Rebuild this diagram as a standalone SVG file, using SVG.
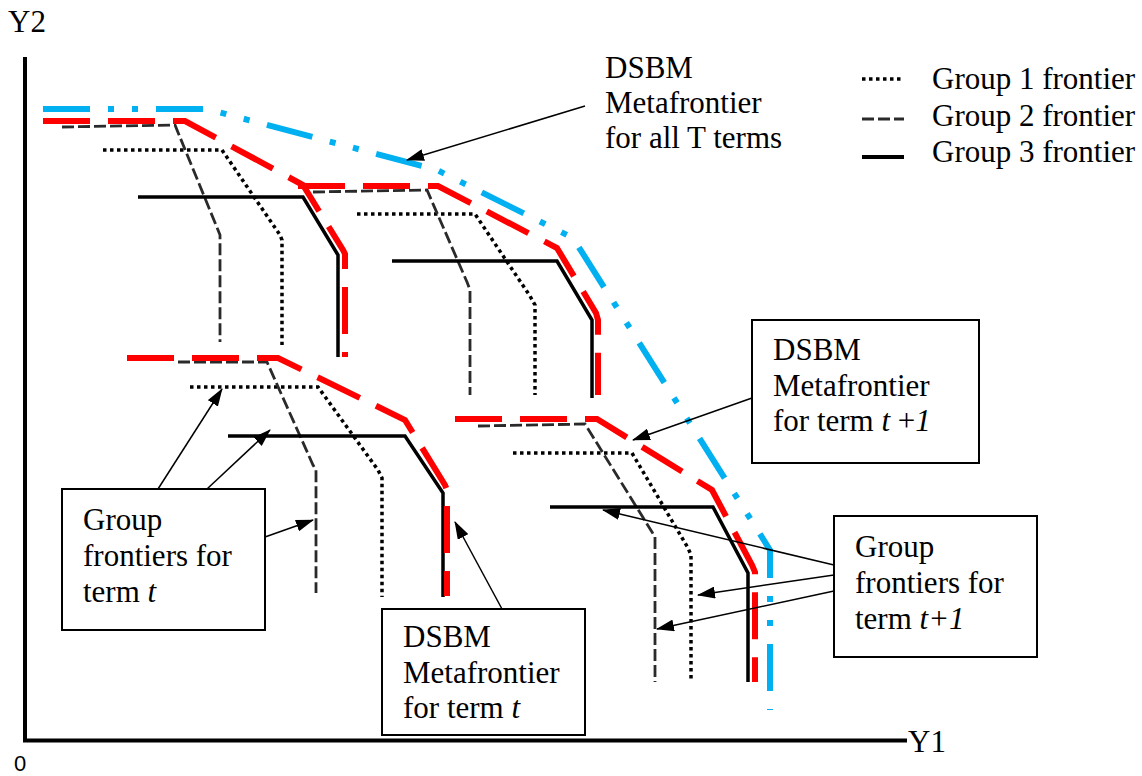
<svg xmlns="http://www.w3.org/2000/svg" width="1142" height="776" viewBox="0 0 1142 776">
<style>
.t{font-family:'Liberation Serif','DejaVu Serif',serif;font-size:31px;fill:#000}
.i{font-style:italic}
.dot{fill:none;stroke:#000;stroke-width:3.5;stroke-dasharray:3.5 3.5}
.dash{fill:none;stroke:#2a2a2a;stroke-width:2.8;stroke-dasharray:12 4}
.sol{fill:none;stroke:#000;stroke-width:3.5;stroke-linejoin:miter}
.red{fill:none;stroke:#ff0000;stroke-width:6;stroke-dasharray:47 18}
.blue{fill:none;stroke:#00b0f0;stroke-width:6;stroke-dasharray:47 18 6 18 6 18}
.box{fill:#fff;stroke:#000;stroke-width:2}
.arr{fill:none;stroke:#000;stroke-width:1.5;marker-end:url(#ah)}
.ax{fill:none;stroke:#000;stroke-width:4}
</style>
<defs>
<marker id="ah" markerUnits="userSpaceOnUse" markerWidth="18" markerHeight="12" refX="17" refY="6" orient="auto">
<path d="M0,0 L18,6 L0,12 z" fill="#000"/>
</marker>
</defs>
<rect width="1142" height="776" fill="#fff"/>
<g id="axes">
<polyline class="ax" points="25,57 25,740.5 907,740.5"/>
<text class="t" font-family="Liberation Serif, serif" x="8" y="32">Y2</text>
<text class="t" font-family="Liberation Serif, serif" x="908" y="752">Y1</text>
<text x="14" y="771" font-family="Liberation Sans, Arial, sans-serif" font-size="22">0</text>
</g>
<g id="legend">
<line class="dot" x1="862" y1="79" x2="904" y2="79"/>
<line class="dash" x1="862" y1="119" x2="904" y2="119"/>
<line class="sol" x1="862" y1="157" x2="904" y2="157" style="stroke-width:4"/>
<text class="t" font-family="Liberation Serif, serif" x="932" y="89">Group 1 frontier</text>
<text class="t" font-family="Liberation Serif, serif" x="932" y="126">Group 2 frontier</text>
<text class="t" font-family="Liberation Serif, serif" x="932" y="162">Group 3 frontier</text>
</g>
<g id="cluster-term-t-top">
<polyline class="dot" points="103,150 222,150 280,235 282,240 282,345"/>
<polyline class="dash" points="62,127 175,125 218,230 220,235 220,342"/>
<polyline class="sol" points="138,197 303,197 338,255 338,357"/>
<polyline class="red" points="43,121 185,121 303,185 343,250 345,254 345,357"/>
</g>
<g id="cluster-term-t1-top">
<polyline class="dot" points="357,214 475,214 530,296 535,305 535,395"/>
<polyline class="dash" points="313,192 427,190 467,282 470,290 470,395"/>
<polyline class="sol" points="392,261 557,261 592,320 592,398"/>
<polyline class="red" points="298,186 438,186 557,248 596,313 598,320 598,395"/>
</g>
<g id="cluster-term-t-low">
<polyline class="dot" points="190,387 318,387 378,470 382,478 382,597"/>
<polyline class="dash" points="178,362 267,362 313,465 316,470 316,593"/>
<polyline class="sol" points="228,436 405,436 443,493 443,597"/>
<polyline class="red" points="127,358 278,358 405,420 445,485 447,490 447,596"/>
</g>
<g id="cluster-term-t1-low">
<polyline class="dot" points="513,453 632,453 688,548 691,555 691,682"/>
<polyline class="dash" points="478,426 585,424 652,532 655,537 655,682"/>
<polyline class="sol" points="550,507 713,507 748,573 748,682"/>
<polyline class="red" points="455,419 597,419 712,490 752,565 755,572 755,682"/>
</g>
<g id="metafrontier-all">
<polyline class="blue" points="43,109 207,109 437,170 573,238 770,550 770,710"/>
</g>
<g id="label-all-T">
<text class="t" font-family="Liberation Serif, serif" x="605" y="78">DSBM</text>
<text class="t" font-family="Liberation Serif, serif" x="605" y="113">Metafrontier</text>
<text class="t" font-family="Liberation Serif, serif" x="605" y="148">for all T terms</text>
</g>
<g id="box-meta-t1">
<rect class="box" x="752" y="320" width="227" height="143"/>
<text class="t" font-family="Liberation Serif, serif" x="773" y="360">DSBM</text>
<text class="t" font-family="Liberation Serif, serif" x="773" y="396">Metafrontier</text>
<text class="t" font-family="Liberation Serif, serif" x="773" y="431">for term <tspan class="i">t</tspan> +<tspan class="i">1</tspan></text>
</g>
<g id="box-group-t">
<rect class="box" x="62" y="489" width="203" height="141"/>
<text class="t" font-family="Liberation Serif, serif" x="83" y="530">Group</text>
<text class="t" font-family="Liberation Serif, serif" x="83" y="566">frontiers for</text>
<text class="t" font-family="Liberation Serif, serif" x="83" y="602">term <tspan class="i">t</tspan></text>
</g>
<g id="box-meta-t">
<rect class="box" x="382" y="609" width="203" height="126"/>
<text class="t" font-family="Liberation Serif, serif" x="403" y="647">DSBM</text>
<text class="t" font-family="Liberation Serif, serif" x="403" y="683">Metafrontier</text>
<text class="t" font-family="Liberation Serif, serif" x="403" y="718">for term <tspan class="i">t</tspan></text>
</g>
<g id="box-group-t1">
<rect class="box" x="834" y="516" width="203" height="141"/>
<text class="t" font-family="Liberation Serif, serif" x="855" y="557">Group</text>
<text class="t" font-family="Liberation Serif, serif" x="855" y="593">frontiers for</text>
<text class="t" font-family="Liberation Serif, serif" x="855" y="629">term <tspan class="i">t+1</tspan></text>
</g>
<g id="connectors">
<line class="arr" x1="585" y1="106" x2="407" y2="160"/>
<line class="arr" x1="752" y1="398" x2="633" y2="440"/>
<line class="arr" x1="158" y1="489" x2="222" y2="389"/>
<line class="arr" x1="207" y1="489" x2="270" y2="430"/>
<line class="arr" x1="265" y1="537" x2="313" y2="520"/>
<line class="arr" x1="502" y1="609" x2="455" y2="522"/>
<line class="arr" x1="834" y1="565" x2="603" y2="510"/>
<line class="arr" x1="834" y1="575" x2="698" y2="595"/>
<line class="arr" x1="834" y1="591" x2="657" y2="629"/>
</g>
</svg>
